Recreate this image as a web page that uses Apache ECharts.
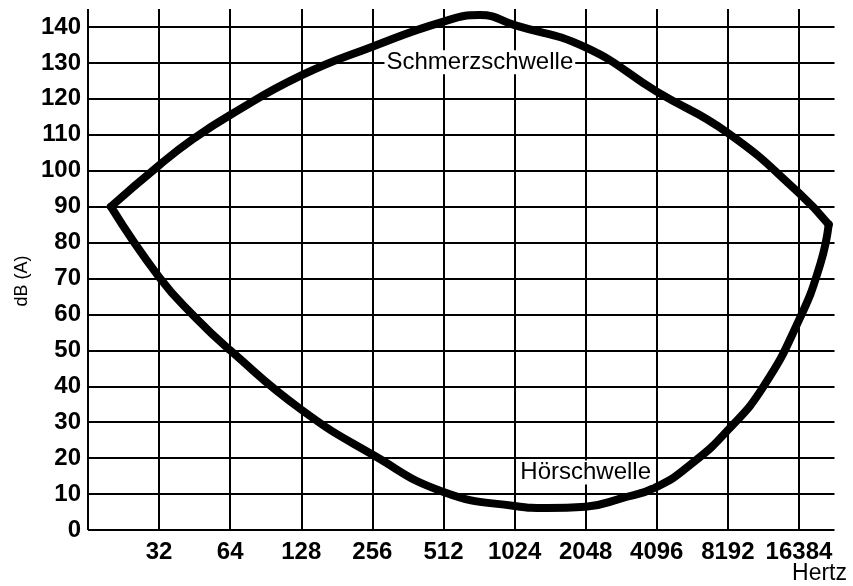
<!DOCTYPE html>
<html>
<head>
<meta charset="utf-8">
<title>Hörfläche</title>
<script src="https://cdn.jsdelivr.net/npm/echarts@6/dist/echarts.min.js"></script>
<style>
  html, body { margin: 0; padding: 0; background: #fff; }
  #chart { width: 853px; height: 586px; }
</style>
</head>
<body>
<div id="chart"></div>
<script>
// Frequenzen in Hertz, Pegel in dB(A)
const painHz = [20, 32, 45, 64, 128, 256, 512, 730, 1024, 2048, 4096, 8192, 16384, 21900]
const painDb = [90, 101.5, 109, 115.5, 126.5, 134.5, 141.5, 143.3, 140.5, 134.3, 122, 110.5, 93.8, 85]

const hearHz = [20, 32, 45, 64, 128, 256, 512, 1024, 1410, 2048, 2896, 4096, 5793, 8192, 11585, 16384, 20171, 21900]
const hearDb = [90, 70.4, 59.5, 50, 33.5, 21, 10.6, 6.7, 6.1, 6.5, 8.8, 12, 18.6, 27.8, 39.9, 58.4, 74, 85]

// Achse in Oktaven: 16 Hz (2^4) bis 16384 Hz (2^14); die Spitzen oben und rechts liegen etwas dahinter
const octMin = 4
const octLast = 14
const octMax = 14.5
const dbLast = 140
const dbMax = 145

const labelPain = { name: 'Schmerzschwelle', hz: 730, db: 130.2 }
const labelHear = { name: 'Hörschwelle', hz: 2048, db: 16 }

const font = '"Liberation Sans", Arial, Helvetica, sans-serif'

const zip = (xs, ys) => xs.map((x, i) => [Math.log2(x), ys[i]])

const chart = echarts.init(document.getElementById('chart'), null, { renderer: 'canvas' })

const lineStyle = { color: '#000', width: 8, cap: 'round', join: 'round' }

const textLabel = (item) => ({
  symbol: 'rect',
  symbolSize: 1,
  itemStyle: { color: 'rgba(0,0,0,0)' },
  label: {
    show: true,
    position: 'inside',
    formatter: item.name,
    color: '#000',
    fontFamily: font,
    fontSize: 24,
    backgroundColor: '#fff',
    padding: [0, 2]
  },
  data: [{ coord: [Math.log2(item.hz), item.db] }]
})

const option = {
  animation: false,
  backgroundColor: '#fff',
  grid: {
    left: 88,
    right: 18.5,
    top: 9,
    bottom: 56,
    show: false
  },
  xAxis: {
    type: 'value',
    min: octMin,
    max: octMax,
    interval: 1,
    axisLine: { show: false },
    axisTick: { show: false },
    axisLabel: {
      color: '#000',
      fontFamily: font,
      fontWeight: 'bold',
      fontSize: 24,
      margin: 10,
      showMaxLabel: false,
      formatter: (v) => (v === octMin || v > octLast ? '' : String(Math.pow(2, v)))
    },
    splitLine: { show: true, showMaxLine: false, lineStyle: { color: '#000', width: 2 } }
  },
  yAxis: {
    type: 'value',
    min: 0,
    max: dbMax,
    interval: 10,
    axisLine: { show: false },
    axisTick: { show: false },
    axisLabel: {
      color: '#000',
      fontFamily: font,
      fontWeight: 'bold',
      fontSize: 24,
      margin: 7,
      showMaxLabel: false,
      formatter: (v) => (v > dbLast ? '' : String(v))
    },
    splitLine: { show: true, showMaxLine: false, lineStyle: { color: '#000', width: 2 } }
  },
  graphic: [{
    type: 'text',
    right: 6,
    bottom: 1,
    style: { text: 'Hertz', fill: '#000', font: '23px ' + font }
  }, {
    type: 'text',
    x: 22,
    y: 281,
    rotation: Math.PI / 2,
    style: { text: 'dB (A)', fill: '#000', font: '18px ' + font, align: 'center', verticalAlign: 'middle' }
  }],
  series: [{
    name: labelPain.name,
    type: 'line',
    smooth: 0.5,
    symbol: 'none',
    lineStyle,
    data: zip(painHz, painDb),
    markPoint: textLabel(labelPain),
    z: 3
  }, {
    name: labelHear.name,
    type: 'line',
    smooth: 0.5,
    symbol: 'none',
    lineStyle,
    data: zip(hearHz, hearDb),
    markPoint: textLabel(labelHear),
    z: 3
  }]
}

chart.setOption(option)
</script>
</body>
</html>
